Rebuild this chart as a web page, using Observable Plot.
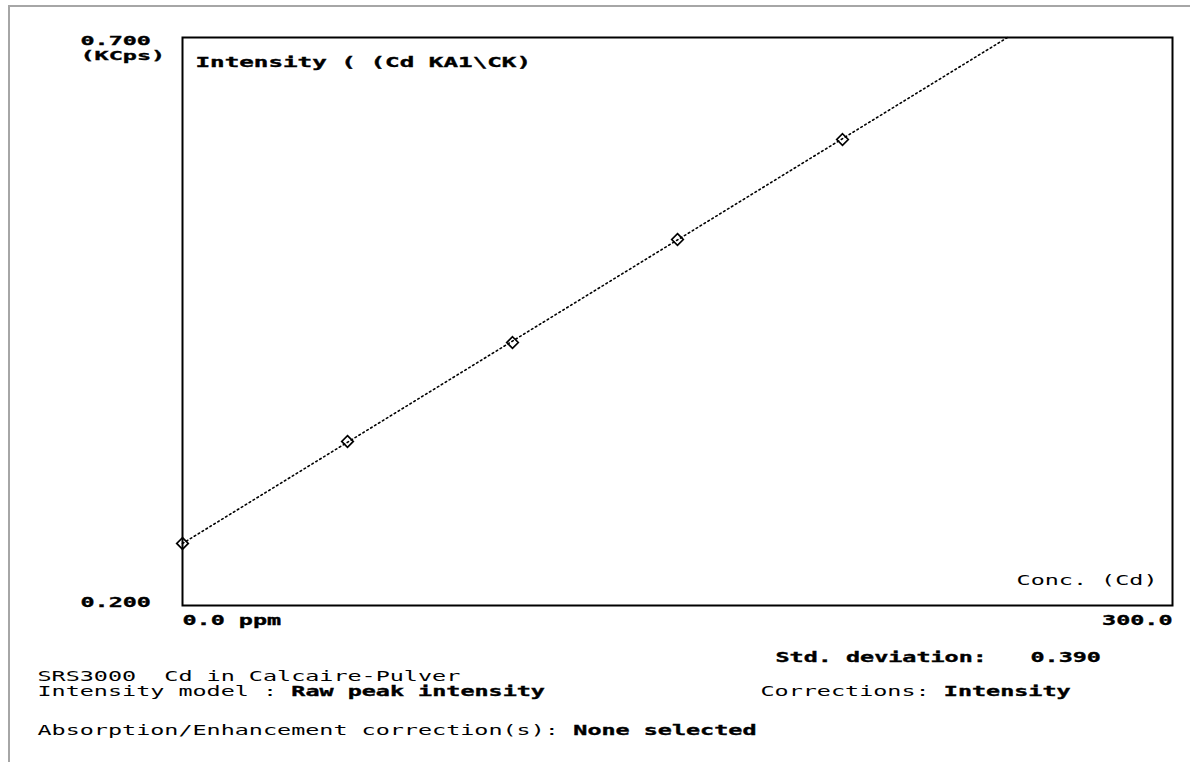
<!DOCTYPE html>
<html>
<head>
<meta charset="utf-8">
<script src="https://cdn.jsdelivr.net/npm/d3@7"></script>
<script src="https://cdn.jsdelivr.net/npm/@observablehq/plot@0.6"></script>
<style>
  html, body { margin: 0; padding: 0; background: #fff; }
  #wrap { position: relative; width: 1190px; height: 762px; overflow: hidden; background: #fff; }
  #border { position: absolute; left: 8px; top: 5px; right: 0; bottom: 0;
            border-top: 2px solid #a6a6a6; border-left: 2px solid #a6a6a6; }
  #chart { position: absolute; left: 0; top: 0; }
  #chart text { white-space: pre; }
</style>
</head>
<body>
<div id="wrap"><div id="border"></div><div id="chart"></div></div>
<script>
// Standards (concentration in ppm, intensity in KCps)
const stdConc = [0, 50, 100, 150, 200];
const stdIntensity = [0.2546, 0.3444, 0.4315, 0.5222, 0.6102];
// Calibration line end points
const fitConc = [0, 250];
const fitIntensity = [0.2546, 0.700];
// Axis ticks
const yTicks = [0.2, 0.7];
const yTickLabels = ["0.200", "0.700"];
const xTicks = [0, 300];
const xTickLabels = ["0.0 ppm", "300.0"];

const CHAR = 14.1;
const txt = (s, frameAnchor, dx, dy, bold, textAnchor = "start", fontSize = 14) =>
  Plot.text([s], {text: d => d, frameAnchor, lineAnchor: "middle", dx, dy, textAnchor, fontSize,
                  fontWeight: bold ? "bold" : "normal", fill: "black"});

const stds = stdConc.map((c, i) => ({c, v: stdIntensity[i]}));
const fit = fitConc.map((c, i) => ({c, v: fitIntensity[i]}));

const plot = Plot.plot({
  width: 1190,
  height: 762,
  marginLeft: 182,
  marginRight: 18,
  marginTop: 37,
  marginBottom: 157,
  style: {fontFamily: "'DejaVu Sans Mono', monospace", fontSize: "14px", background: "transparent", color: "black"},
  x: {domain: [0, 300], axis: null},
  y: {domain: [0.2, 0.7], axis: null},
  marks: [
    Plot.frame({stroke: "black", strokeWidth: 2}),
    Plot.line(fit, {x: "c", y: "v", stroke: "black", strokeWidth: 1.6, strokeDasharray: "1.6,3"}),
    Plot.dot(stds, {x: "c", y: "v", symbol: "diamond2", r: 5.2, stroke: "black", strokeWidth: 1.7, fill: "none"}),
    // y tick labels
    Plot.text([0], {y: yTicks[1], text: () => yTickLabels[1], frameAnchor: "left", lineAnchor: "middle", dx: -102, dy: 3, textAnchor: "start", fontWeight: "bold", fontSize: 12.5}),
    Plot.text([0], {y: yTicks[0], text: () => yTickLabels[0], frameAnchor: "left", lineAnchor: "middle", dx: -102, dy: -3, textAnchor: "start", fontWeight: "bold"}),
    txt("(KCps)", "top-left", -102, 18, true, "start", 12.5),
    // x tick labels
    Plot.text([0], {x: xTicks[0], text: () => xTickLabels[0], frameAnchor: "bottom", lineAnchor: "middle", dy: 15, textAnchor: "start", fontWeight: "bold"}),
    Plot.text([0], {x: xTicks[1], text: () => xTickLabels[1], frameAnchor: "bottom", lineAnchor: "middle", dy: 15, textAnchor: "end", fontWeight: "bold"}),
    // inside labels
    txt("Intensity ( (Cd KA1\\CK)", "top-left", 13, 25, true),
    txt("Conc. (Cd)", "bottom-right", -15, -25, false, "end"),
    // bottom info
    txt("Std. deviation:", "bottom-left", 593, 52, true),
    txt("0.390", "bottom-left", 848, 52, true),
    txt("SRS3000  Cd in Calcaire-Pulver", "bottom-left", -145, 71, false),
    txt("Intensity model :", "bottom-left", -145, 86, false),
    txt("Raw peak intensity", "bottom-left", -145 + 18 * CHAR, 86, true),
    txt("Corrections:", "bottom-left", 578, 86, false),
    txt("Intensity", "bottom-left", 578 + 13 * CHAR, 86, true),
    txt("Absorption/Enhancement correction(s):", "bottom-left", -145, 125, false),
    txt("None selected", "bottom-left", -145 + 38 * CHAR, 125, true)
  ]
});

document.getElementById("chart").appendChild(plot);
// Stretch the glyphs horizontally around each text's anchor point,
// imitating the wide bitmap font of the original instrument screen.
plot.querySelectorAll("text").forEach(t => {
  const s = t.textContent;
  const w = t.getComputedTextLength();
  if (!w) return;
  const cw = s.startsWith("Intensity (") ? 14.6 : CHAR;
  const k = (s.length * cw) / w;
  const x = +(t.getAttribute("x") || 0);
  const orig = t.getAttribute("transform") || "";
  t.setAttribute("transform", `${orig} translate(${x},0) scale(${k.toFixed(4)},1) translate(${-x},0)`);
  const fw = t.getAttribute("font-weight") || (t.parentNode.getAttribute && t.parentNode.getAttribute("font-weight"));
  if (fw === "bold") {
    t.setAttribute("stroke", "black");
    t.setAttribute("stroke-width", "0.35");
  }
});
</script>
</body>
</html>
